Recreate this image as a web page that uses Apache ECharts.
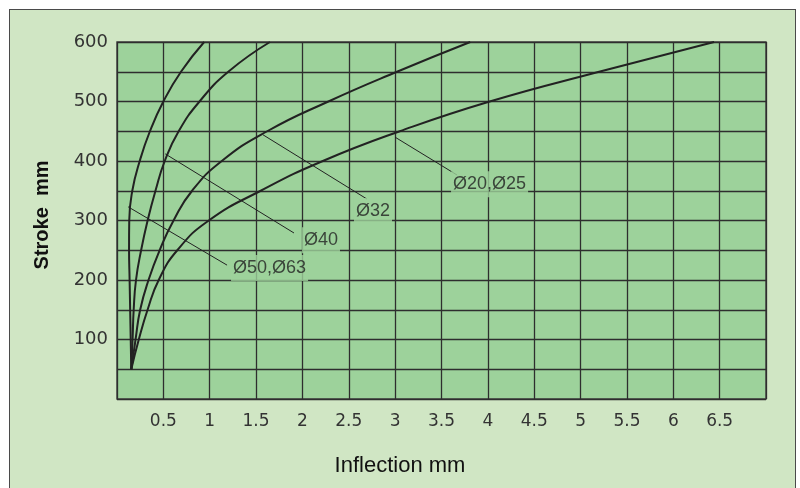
<!DOCTYPE html>
<html>
<head>
<meta charset="utf-8">
<title>Stroke vs Inflection</title>
<script src="https://cdn.jsdelivr.net/npm/echarts@6/dist/echarts.min.js"></script>
<style>
  html, body { margin: 0; padding: 0; background: #ffffff; }
  .frame {
    position: absolute; left: 9px; top: 9px; width: 785px; height: 490px;
    background: #d0e6c4; border: 1.5px solid #4a4a4a;
  }
  .box { position: absolute; left: 0; top: 0; width: 800px; height: 488px; }
</style>
</head>
<body>
<div class="frame"></div>
<div class="box"></div>
<script>
// stroke (mm) shared by all curves
var strokes = [50, 100, 150, 200, 250, 300, 350, 400, 450, 500, 550, 600];
// inflection (mm)
var inflect50_63 = [0.154, 0.148, 0.142, 0.136, 0.13, 0.132, 0.165, 0.245, 0.355, 0.5, 0.69, 0.94];
var inflect40    = [0.154, 0.168, 0.18, 0.205, 0.26, 0.33, 0.415, 0.515, 0.665, 0.89, 1.2, 1.65];
var inflect32    = [0.154, 0.2, 0.25, 0.34, 0.46, 0.61, 0.81, 1.13, 1.62, 2.28, 3.02, 3.81];
var inflect20_25 = [0.154, 0.235, 0.33, 0.45, 0.65, 0.99, 1.55, 2.22, 3.05, 4.02, 5.2, 6.44];

// callouts: name, leader start, leader end, label anchor
var calloutNames = ["Ø50,Ø63", "Ø40", "Ø32", "Ø20,Ø25"];
var leaderFrom = [[0.12, 323], [0.52, 412], [1.575, 444], [3.0, 440]];
var leaderTo   = [[1.187, 225], [1.909, 279], [2.697, 336], [3.667, 376.5]];
var labelAt    = [[1.23, 220], [1.995, 267], [2.556, 316], [3.603, 361]];

(function () {
    var myChart = echarts.init(document.querySelector(".box"));

    var curves = [inflect50_63, inflect40, inflect32, inflect20_25];
    var series = [];

    curves.forEach(function (xs) {
        series.push({
            type: "line",
            data: strokes.map(function (s, i) { return [xs[i], s]; }),
            smooth: 0.5,
            smoothConstraint: false,
            symbol: "none",
            lineStyle: { color: "#222", width: 2 },
            z: 3
        });
    });

    calloutNames.forEach(function (n, i) {
        series.push({
            type: "line",
            data: [leaderFrom[i], leaderTo[i]],
            symbol: "none",
            lineStyle: { color: "#222", width: 1 },
            z: 3
        });
    });

    series.push({
        type: "scatter",
        symbolSize: 0,
        z: 10,
        data: calloutNames.map(function (n, i) {
            return { name: n, value: labelAt[i] };
        }),
        label: {
            show: true,
            position: "right",
            distance: 0,
            formatter: "{b}",
            fontFamily: "Liberation Sans, Arial, sans-serif",
            fontSize: 18,
            color: "#222",
            backgroundColor: "#9dd29b",
            padding: [4, 2, 4, 2]
        }
    });

    var option = {
        animation: false,
        grid: {
            left: 117, top: 42, right: 34, bottom: 89,
            outerBoundsMode: "none",
            show: true,
            backgroundColor: "#9dd29b",
            borderColor: "#444",
            borderWidth: 1.5
        },
        xAxis: {
            type: "value",
            min: 0, max: 7, interval: 0.5,
            axisLine: { show: false },
            axisTick: { show: false },
            splitLine: { show: true, lineStyle: { color: "#2e2e2e", width: 1.3 } },
            axisLabel: {
                margin: 14,
                fontFamily: "DejaVu Sans, sans-serif",
                fontSize: 17,
                color: "#333",
                formatter: function (v) { return (v === 0 || v === 7) ? "" : String(v); }
            }
        },
        yAxis: {
            type: "value",
            min: 0, max: 600, interval: 50,
            axisLine: { show: false },
            axisTick: { show: false },
            splitLine: { show: true, lineStyle: { color: "#2e2e2e", width: 1.3 } },
            axisLabel: {
                margin: 9,
                fontFamily: "DejaVu Sans, sans-serif",
                fontSize: 18,
                color: "#333",
                formatter: function (v) { return (v > 0 && v % 100 === 0) ? String(v) : ""; }
            }
        },
        graphic: [
            {
                type: "text", x: 400, y: 466,
                style: {
                    text: "Inflection mm", fill: "#111",
                    font: "22px 'Liberation Sans', Arial, sans-serif",
                    align: "center", verticalAlign: "middle"
                }
            },
            {
                type: "text", x: 42, y: 215, rotation: Math.PI / 2,
                style: {
                    text: "Stroke  mm", fill: "#111",
                    font: "bold 20px 'Liberation Sans', Arial, sans-serif",
                    align: "center", verticalAlign: "middle"
                }
            }
        ],
        series: series
    };

    myChart.setOption(option);

    window.addEventListener("resize", function () {
        myChart.resize();
    });
})();
</script>
</body>
</html>
